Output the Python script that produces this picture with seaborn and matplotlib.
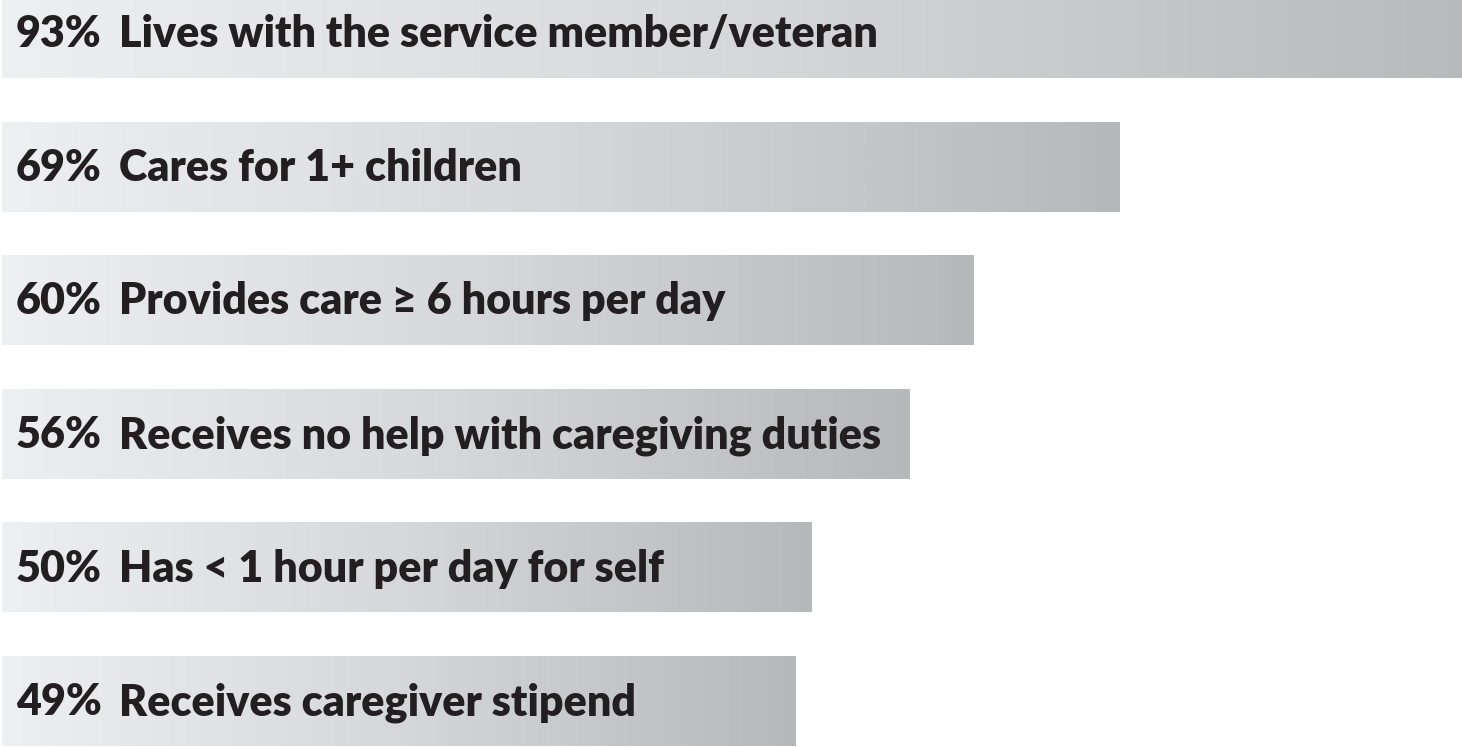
import numpy as np
import pandas as pd
import seaborn as sns
import matplotlib as mpl
import matplotlib.pyplot as plt
from matplotlib.colors import LinearSegmentedColormap
mpl.use('Agg')


labels = [
    'Lives with the service member/veteran',
    'Cares for 1+ children',
    'Provides care \u2265 6 hours per day',
    'Receives no help with caregiving duties',
    'Has < 1 hour per day for self',
    'Receives caregiver stipend']
percents = [93, 69, 60, 56, 50, 49]

df = pd.DataFrame({'label': labels, 'pct': percents})

sns.set_theme(style='white')
plt.rcParams['font.family'] = ['Lato', 'DejaVu Sans']

f = plt.figure(figsize=(14.62, 7.47), dpi=100)
ax = f.add_axes([0, 0, 1, 1])

sns.barplot(data=df, x='pct', y='label', orient='h', width=0.674,
            color='white', linewidth=0, ax=ax)

# gray gradient inside every bar, light on the left, darker on the right
grad = LinearSegmentedColormap.from_list('g', ['#eeeff0', '#d6d7d9', '#b7b8ba'])
ramp = np.linspace(0, 1, 256).reshape(1, -1)
for bar in ax.patches:
    x0, y0 = bar.get_x(), bar.get_y()
    w, h = bar.get_width(), bar.get_height()
    im = ax.imshow(ramp, cmap=grad, aspect='auto', interpolation='bicubic',
                   extent=[x0, x0 + w, y0 + h, y0], zorder=2)
    im.set_clip_path(bar)

px = 16.2  # pixels per percent
ax.set_xlim(-2 / px, 1460 / px)
ax.set_ylim(5 + 46 / 133.6, -33 / 133.6)

for i, (p, lab) in enumerate(zip(percents, labels)):
    ax.text(14 / px, i + 0.107, f'{p}%', fontsize=31, fontweight='heavy',
            color='#231f20', ha='left', va='baseline', zorder=3)
    ax.text(117 / px, i + 0.107, lab, fontsize=31, fontweight='heavy',
            color='#231f20', ha='left', va='baseline', zorder=3)

ax.axis('off')
f.savefig('out.png', dpi=100)
